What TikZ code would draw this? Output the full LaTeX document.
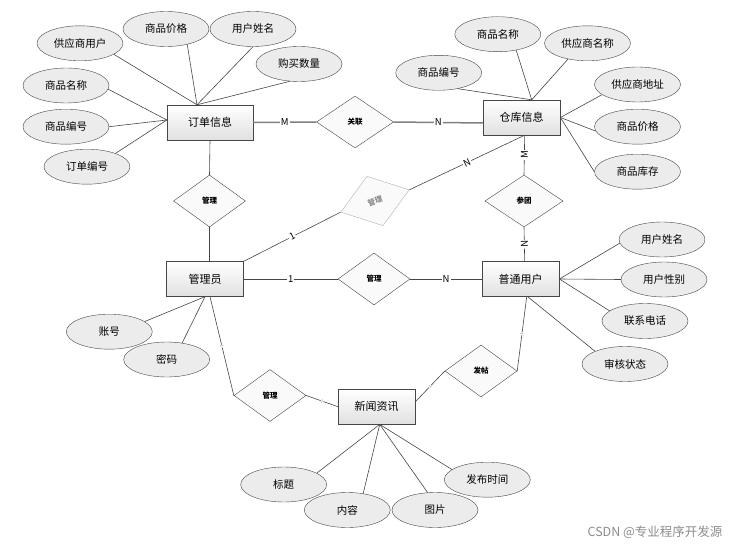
\documentclass[tikz,border=0pt]{standalone}
\usepackage{fontspec}
\setmainfont{Noto Sans CJK SC}
\usepackage{tikz}
\usetikzlibrary{shapes.geometric}
\usepackage{xcolor}
\definecolor{edgegray}{RGB}{70,70,70}
\definecolor{fillgray}{RGB}{236,236,236}

\begin{document}
\begin{tikzpicture}[
    x=1pt, y=-1pt,
    entity/.style={rectangle, draw=edgegray, top color=white, bottom color=black!12,
        minimum width=77pt, minimum height=35pt, inner sep=0pt,
        font=\fontsize{11}{13}\selectfont},
    attrib/.style={ellipse, draw=edgegray, fill=fillgray,
        minimum width=86pt, minimum height=35pt, inner sep=0pt,
        font=\fontsize{10.5}{12}\selectfont},
    relation/.style={diamond, draw=edgegray, fill=black!2,
        minimum width=72pt, minimum height=52pt, inner sep=0pt,
        font=\fontsize{7.5}{9}\selectfont\bfseries},
    link/.style={draw=edgegray, line width=0.6pt},
    heavy/.style={draw=black!50, line width=1.5pt},
    card/.style={fill=white, inner sep=1pt, font=\fontsize{9.5}{10}\selectfont},
    tickmark/.style={fill=white, inner sep=0.3pt, text=black!55, sloped,
        font=\fontsize{4}{4}\selectfont}
]
    \useasboundingbox (0,0) rectangle (735,545);

    % entities
    \node[entity, minimum width=86pt] (order) at (210,122.5) {订单信息};
    \node[entity] (store) at (521.7,117.5) {仓库信息};
    \node[entity] (admin) at (205,279) {管理员};
    \node[entity] (user) at (520.7,279) {普通用户};
    \node[entity] (news) at (376.7,406.7) {新闻资讯};

    % relations
    \node[relation, minimum width=77pt] (relLink) at (355,122) {关联};
    \node[relation] (mgOrder) at (209.5,201) {管理};
    \node[relation, draw=black!30, text=black!45, rotate=18] (mgStore) at (375,201) {管理};
    \node[relation, minimum width=78pt] (join) at (524,201) {参团};
    \node[relation] (mgUser) at (374,279) {管理};
    \node[relation] (mgNews) at (270,395.5) {管理};
    \node[relation] (post) at (481,371) {发帖};

    % attributes of order
    \node[attrib] (oSup) at (80,43.3) {供应商用户};
    \node[attrib] (oPrice) at (166,29) {商品价格};
    \node[attrib] (oUser) at (253,29) {用户姓名};
    \node[attrib] (oQty) at (299,64) {购买数量};
    \node[attrib] (oName) at (66,85.5) {商品名称};
    \node[attrib] (oCode) at (66,126.7) {商品编号};
    \node[attrib] (oNo) at (87,166.7) {订单编号};

    % attributes of store
    \node[attrib] (sName) at (497.8,34.2) {商品名称};
    \node[attrib] (sSup) at (587.5,43.3) {供应商名称};
    \node[attrib] (sCode) at (438.7,72.8) {商品编号};
    \node[attrib] (sAddr) at (637.5,84.5) {供应商地址};
    \node[attrib] (sPrice) at (637.5,126.7) {商品价格};
    \node[attrib] (sStock) at (637.5,171.7) {商品库存};

    % attributes of admin
    \node[attrib] (aAcc) at (109.3,331.7) {账号};
    \node[attrib] (aPwd) at (166.7,359.5) {密码};

    % attributes of user
    \node[attrib] (uName) at (662,239.5) {用户姓名};
    \node[attrib] (uSex) at (664,279.5) {用户性别};
    \node[attrib] (uTel) at (645,321) {联系电话};
    \node[attrib] (uState) at (625,364) {审核状态};

    % attributes of news
    \node[attrib] (nTitle) at (283.7,484.5) {标题};
    \node[attrib] (nBody) at (347.3,510) {内容};
    \node[attrib] (nPic) at (435,510) {图片};
    \node[attrib] (nTime) at (487.3,479.7) {发布时间};

    \node[anchor=east, text=black!45, font=\fontsize{12.5}{14}\selectfont] (wm) at (726,532) {CSDN @专业程序开发源};

    % attribute links
    \draw[link] (oSup.-18) -- ([xshift=-13pt]order.north);
    \draw[link] (oPrice.-36) -- ([xshift=-13pt]order.north);
    \draw[link] (oUser.south) -- ([xshift=-13pt]order.north);
    \draw[link] (oQty.-118) -- ([xshift=-13pt]order.north);
    \draw[link] (oName.-5) -- ([yshift=2.5pt]order.west);
    \draw[link] (oCode.east) -- ([yshift=2.5pt]order.west);
    \draw[link] (oNo.25) -- ([yshift=2.5pt]order.west);

    \draw[link] (sName.-41) -- ([xshift=10pt]store.north);
    \draw[link] (sSup.-141) -- ([xshift=10pt]store.north);
    \draw[link] (sCode.-40) -- ([xshift=10pt]store.north);
    \draw[link] (sAddr.-164) -- (store.east);
    \draw[link] (sPrice.-174) -- (store.east);
    \draw[link] (sStock.west) -- (store.east);

    \draw[link] (aAcc.16) -- (admin.south);
    \draw[link] (aPwd.47) -- (admin.south);

    \draw[link] (uName.-175) -- (user.east);
    \draw[link] (uSex.west) -- (user.east);
    \draw[link] (uTel.164) -- (user.east);
    \draw[link] (uState.157) -- ([xshift=7pt]user.south);

    \draw[link] (nTitle.19) -- ([xshift=3pt]news.south);
    \draw[link] (nBody.46) -- ([xshift=3pt]news.south);
    \draw[link] (nPic.113) -- ([xshift=3pt]news.south);
    \draw[link] (nTime.164) -- ([xshift=3pt]news.south);

    % relation links
    \draw[heavy] (order.east) -- node[card] {M} (relLink.west);
    \draw[heavy] (relLink.east) -- node[card] {N} ([yshift=-5.5pt]store.west);
    \draw[link] (order.south) -- (mgOrder.north);
    \draw[link] (mgOrder.south) -- ([xshift=4.5pt]admin.north);
    \draw[link] ([xshift=3pt]store.south) -- node[card, sloped] {M} (join.north);
    \draw[link] (join.south) -- node[card, sloped] {N} ([xshift=4pt]user.north);
    \draw[link] (admin.east) -- node[card] {1} (mgUser.west);
    \draw[link] (mgUser.east) -- node[card] {N} (user.west);
    \draw[link] (admin.north east) -- node[card, sloped] {1} (mgStore.west);
    \draw[link] (mgStore.east) -- node[card, sloped] {N} ([xshift=3pt]store.south);
    \draw[link] ([xshift=5pt]admin.south) -- node[tickmark] {1} (mgNews.west);
    \draw[link] (mgNews.east) -- node[tickmark] {1} (news.west);
    \draw[link] ([xshift=6pt]user.south) -- node[tickmark] {1} (post.east);
    \draw[link] (post.west) -- node[tickmark] {1} ([yshift=5pt]news.east);
\end{tikzpicture}
\end{document}
